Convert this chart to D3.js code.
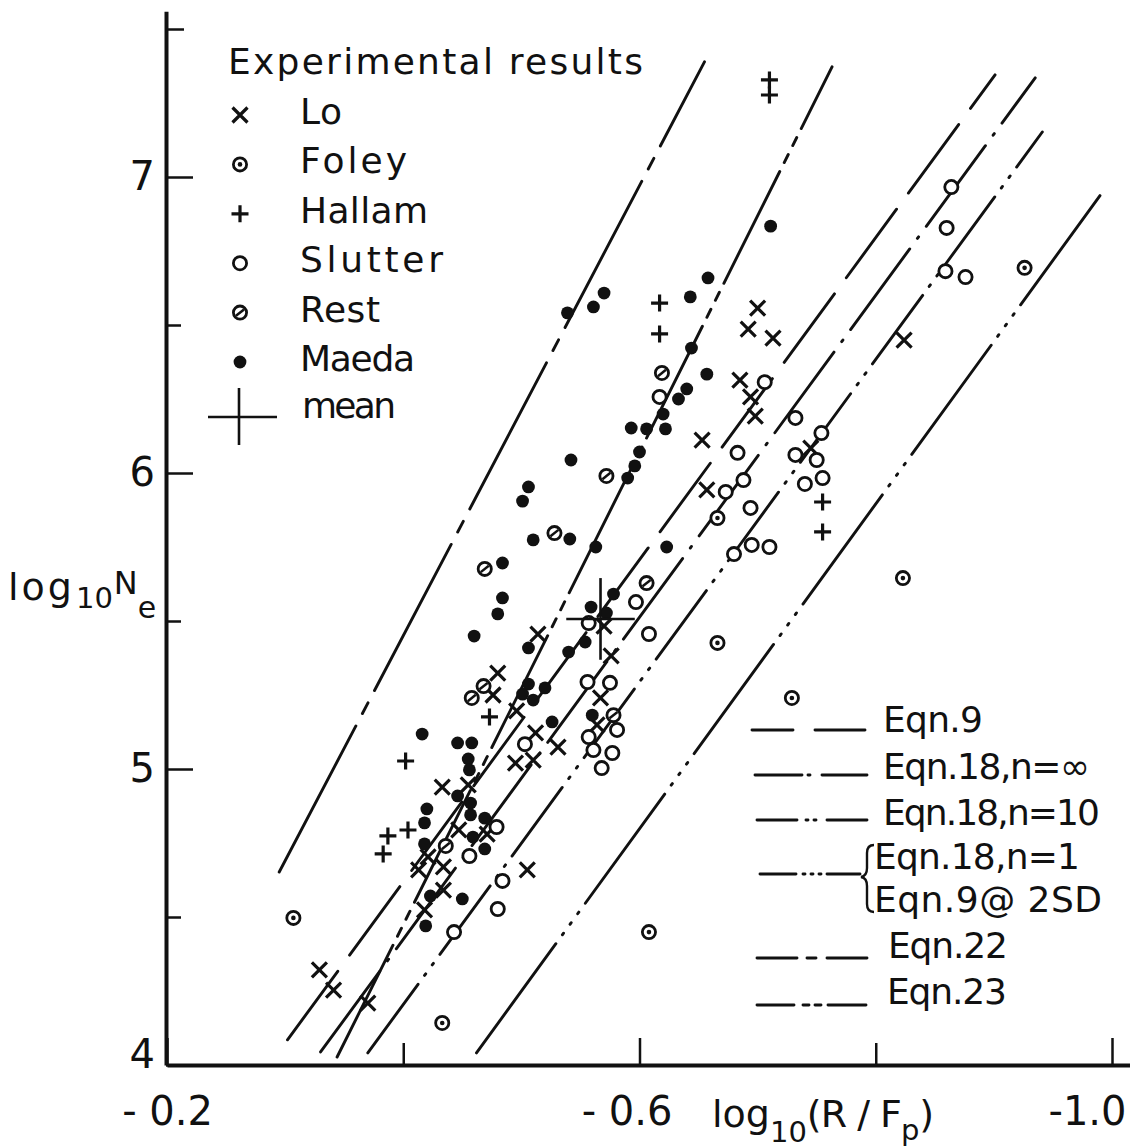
<!DOCTYPE html>
<html>
<head>
<meta charset="utf-8">
<script src="https://cdn.jsdelivr.net/npm/d3@7"></script>
<style>
    html, body { margin: 0; padding: 0; background: #fff; }
    svg text { font-family: "DejaVu Sans", sans-serif; fill: #111; }
</style>
</head>
<body>
<svg id="chart" width="1130" height="1148"></svg>
<script>
// Points are [log10(R/Fp), log10 Ne].
var lo = [[-0.329, 4.321], [-0.341, 4.253], [-0.370, 4.209], [-0.433, 4.939], [-0.455, 4.946],
    [-0.447, 4.794], [-0.471, 4.780], [-0.421, 4.703], [-0.413, 4.659], [-0.434, 4.669],
    [-0.434, 4.591], [-0.418, 4.524], [-0.505, 4.659], [-0.512, 5.122], [-0.495, 5.020],
    [-0.510, 5.030], [-0.531, 5.074], [-0.476, 5.250], [-0.480, 5.324], [-0.496, 5.196],
    [-0.514, 5.456], [-0.570, 5.483], [-0.576, 5.382], [-0.567, 5.240], [-0.564, 5.149],
    [-0.653, 6.111], [-0.657, 5.943], [-0.685, 6.314], [-0.694, 6.257], [-0.698, 6.192],
    [-0.700, 6.557], [-0.692, 6.486], [-0.713, 6.456], [-0.745, 6.084], [-0.824, 6.449]];

var foley = [[-0.307, 4.497], [-0.433, 4.142], [-0.608, 4.449], [-0.666, 5.426], [-0.729, 5.240],
    [-0.823, 5.645], [-0.666, 5.848], [-0.926, 6.693]];

var hallam = [[-0.402, 5.027], [-0.387, 4.774], [-0.404, 4.794], [-0.383, 4.713], [-0.473, 5.176],
    [-0.617, 6.574], [-0.617, 6.470], [-0.710, 7.328], [-0.710, 7.277], [-0.755, 5.902],
    [-0.755, 5.801]];

var slutter = [[-0.443, 4.449], [-0.480, 4.527], [-0.484, 4.622], [-0.456, 4.706], [-0.479, 4.804],
    [-0.503, 5.084], [-0.556, 5.294], [-0.575, 5.291], [-0.581, 5.132], [-0.557, 5.108],
    [-0.561, 5.064], [-0.577, 5.054], [-0.568, 5.003], [-0.557, 5.493], [-0.597, 5.564],
    [-0.608, 5.456], [-0.617, 6.257], [-0.706, 6.307], [-0.732, 6.186], [-0.754, 6.135],
    [-0.683, 6.068], [-0.732, 6.061], [-0.750, 6.044], [-0.755, 5.983], [-0.740, 5.963],
    [-0.688, 5.976], [-0.673, 5.936], [-0.694, 5.882], [-0.680, 5.726], [-0.695, 5.757],
    [-0.710, 5.750], [-0.864, 6.966], [-0.860, 6.828], [-0.859, 6.682], [-0.876, 6.662]];

var rest = [[-0.436, 4.740], [-0.458, 5.240], [-0.468, 5.280], [-0.469, 5.676], [-0.528, 5.797],
    [-0.572, 5.990], [-0.606, 5.628], [-0.578, 5.182], [-0.619, 6.338]];

var maeda = [[-0.416, 5.118], [-0.446, 5.088], [-0.458, 5.088], [-0.455, 5.034], [-0.456, 4.997],
    [-0.446, 4.909], [-0.457, 4.885], [-0.420, 4.865], [-0.418, 4.818], [-0.457, 4.845],
    [-0.469, 4.834], [-0.459, 4.770], [-0.418, 4.747], [-0.469, 4.730], [-0.423, 4.571],
    [-0.450, 4.561], [-0.419, 4.470], [-0.526, 5.159], [-0.506, 5.287], [-0.501, 5.253],
    [-0.510, 5.233], [-0.520, 5.274], [-0.560, 5.182], [-0.542, 6.044], [-0.506, 5.953],
    [-0.501, 5.905], [-0.510, 5.774], [-0.541, 5.777], [-0.484, 5.696], [-0.484, 5.578],
    [-0.480, 5.524], [-0.460, 5.449], [-0.506, 5.409], [-0.540, 5.395], [-0.563, 5.750],
    [-0.578, 5.591], [-0.559, 5.547], [-0.572, 5.527], [-0.554, 5.429], [-0.623, 5.750],
    [-0.590, 5.983], [-0.596, 6.024], [-0.600, 6.071], [-0.593, 6.152], [-0.606, 6.149],
    [-0.622, 6.149], [-0.620, 6.199], [-0.633, 6.250], [-0.640, 6.284], [-0.657, 6.334],
    [-0.644, 6.422], [-0.643, 6.595], [-0.658, 6.659], [-0.711, 6.834], [-0.539, 6.541],
    [-0.561, 6.561], [-0.570, 6.608]];

var meanPoint = [-0.567, 5.507];
var meanErr = [0.029, 0.138];

// Theory lines: end points in data units.
var lineNames = ["Eqn.9", "Eqn.18,n=∞", "Eqn.18,n=10", "Eqn.18,n=1", "Eqn.22", "Eqn.23"];
var lineFrom = [[-0.302, 4.085], [-0.330, 4.044], [-0.370, 4.041], [-0.462, 4.041], [-0.295, 4.652], [-0.344, 4.027]];
var lineTo = [[-0.901, 7.345], [-0.935, 7.335], [-0.941, 7.152], [-0.992, 6.949], [-0.655, 7.389], [-0.763, 7.372]];

var xMajor = [-0.2, -0.6, -1.0];
var xMinor = [-0.4, -0.8];
var xLabels = ["- 0.2", "- 0.6", "-1.0"];
var yMajor = [4, 5, 6, 7];
var yMinor = [4.5, 5.5, 6.5];
var yTop = [7.5];

var ink = "#111";
var svg = d3.select("#chart");

var x = d3.scaleLinear().domain([-0.2, -1.016]).range([167, 167 + 0.816 * 1181.25]);
var y = d3.scaleLinear().domain([4, 7.56]).range([1065, 1065 - 3.56 * 296]);

// dash patterns for the curves (along the line)
var dashes = ["85 20", "100 13 2 13", "85 11 2 11 2 11", "135 11 2 11 2 11 2 11", "165 14 12 14", "125 10 9 10 9 10"];

svg.append("g").selectAll("line")
    .data(lineNames)
    .enter().append("line")
    .attr("x1", function (d, i) { return x(lineFrom[i][0]); })
    .attr("y1", function (d, i) { return y(lineFrom[i][1]); })
    .attr("x2", function (d, i) { return x(lineTo[i][0]); })
    .attr("y2", function (d, i) { return y(lineTo[i][1]); })
    .attr("stroke", ink)
    .attr("stroke-width", 2.9)
    .attr("stroke-linecap", "round")
    .attr("stroke-dasharray", function (d, i) { return dashes[i]; });

// axes
function styleAxis(g) {
    g.attr("font-size", null).attr("font-family", null);
    g.select(".domain").attr("stroke", ink).attr("stroke-width", 4);
    g.selectAll(".tick line").attr("stroke", ink).attr("stroke-width", 2.5);
}

var gx = svg.append("g").attr("transform", "translate(0,1065)")
    .call(d3.axisBottom(x).tickValues(xMajor).tickSizeInner(-27).tickSizeOuter(0)
        .tickFormat(function (d) { return xLabels[xMajor.indexOf(d)]; }));
styleAxis(gx);
gx.selectAll(".tick text")
    .attr("font-size", 40)
    .attr("y", 60).attr("dy", 0)
    .attr("dx", function (d) { return d === -0.6 ? -13 : (d === -1.0 ? -25 : 0); });

var gx2 = svg.append("g").attr("transform", "translate(0,1065)")
    .call(d3.axisBottom(x).tickValues(xMinor).tickSizeInner(-22).tickSizeOuter(0).tickFormat(""));
styleAxis(gx2);
gx2.select(".domain").remove();

var gy = svg.append("g").attr("transform", "translate(166,0)")
    .call(d3.axisLeft(y).tickValues(yMajor).tickSizeInner(-27).tickSizeOuter(0).tickPadding(11)
        .tickFormat(d3.format("d")));
styleAxis(gy);
gy.selectAll(".tick text")
    .attr("font-size", 40)
    .attr("y", function (d) { return d === 4 ? -10 : 0; });

var gy2 = svg.append("g").attr("transform", "translate(166,0)")
    .call(d3.axisLeft(y).tickValues(yMinor).tickSizeInner(-15).tickSizeOuter(0).tickFormat(""));
styleAxis(gy2);
gy2.select(".domain").remove();

var gy3 = svg.append("g").attr("transform", "translate(166,0)")
    .call(d3.axisLeft(y).tickValues(yTop).tickSizeInner(-18).tickSizeOuter(0).tickFormat(""));
styleAxis(gy3);
gy3.select(".domain").remove();

// axis titles
var xt = svg.append("text").attr("x", 712).attr("y", 1127).attr("font-size", 38);
xt.append("tspan").text("log");
xt.append("tspan").attr("font-size", 29).attr("dy", 15).text("10");
xt.append("tspan").attr("dy", -15).attr("letter-spacing", -1).text("(R / F");
xt.append("tspan").attr("font-size", 29).attr("dy", 13).text("p");
xt.append("tspan").attr("dy", -13).text(")");

var yt = svg.append("text").attr("x", 8).attr("y", 600).attr("font-size", 38);
yt.append("tspan").attr("letter-spacing", 3).text("log");
yt.append("tspan").attr("font-size", 29).attr("dy", 8).attr("dx", 1).text("10");
yt.append("tspan").attr("font-size", 32).attr("dy", -14).attr("dx", 1).text("N");
yt.append("tspan").attr("font-size", 30).attr("dy", 24).text("e");

// marker shapes
function addShape(sel, kind) {
    if (kind === "x") {
        sel.append("path").attr("d", "M-7.5,-7.5L7.5,7.5M-7.5,7.5L7.5,-7.5")
            .attr("stroke", ink).attr("stroke-width", 3.2).attr("fill", "none");
    } else if (kind === "plus") {
        sel.append("path").attr("d", "M-8.5,0H8.5M0,-8.5V8.5")
            .attr("stroke", ink).attr("stroke-width", 3.2).attr("fill", "none");
    } else if (kind === "dot") {
        sel.append("circle").attr("r", 6.4).attr("fill", ink);
    } else {
        sel.append("circle").attr("r", 6.6).attr("fill", "#fff")
            .attr("stroke", ink).attr("stroke-width", 2.8);
        if (kind === "centre") {
            sel.append("circle").attr("r", 2.3).attr("fill", ink);
        } else if (kind === "slash") {
            sel.append("path").attr("d", "M-4,3.2L4,-3.2")
                .attr("stroke", ink).attr("stroke-width", 2.5);
        }
    }
}

var seriesData = [lo, foley, hallam, slutter, rest, maeda];
var seriesNames = ["Lo", "Foley", "Hallam", "Slutter", "Rest", "Maeda"];
var seriesKinds = ["x", "centre", "plus", "open", "slash", "dot"];

var marks = svg.append("g");
seriesData.forEach(function (data, i) {
    var g = marks.selectAll(null)
        .data(data)
        .enter().append("g")
        .attr("transform", function (d) { return "translate(" + x(d[0]) + "," + y(d[1]) + ")"; });
    addShape(g, seriesKinds[i]);
});

// mean with error bars
var mg = svg.append("g").attr("stroke", ink).attr("stroke-width", 2.6);
mg.append("line")
    .attr("x1", x(meanPoint[0] + meanErr[0])).attr("x2", x(meanPoint[0] - meanErr[0]))
    .attr("y1", y(meanPoint[1])).attr("y2", y(meanPoint[1]));
mg.append("line")
    .attr("x1", x(meanPoint[0])).attr("x2", x(meanPoint[0]))
    .attr("y1", y(meanPoint[1] - meanErr[1])).attr("y2", y(meanPoint[1] + meanErr[1]));

// legend: experimental results
svg.append("text").attr("x", 228).attr("y", 74).attr("font-size", 36)
    .attr("textLength", 415).attr("lengthAdjust", "spacing").text("Experimental results");

var legWidths = [42, 107, 128, 143, 80, 115];
seriesNames.forEach(function (name, i) {
    var cy = 115 + 49.4 * i;
    var g = svg.append("g").attr("transform", "translate(240," + cy + ")");
    addShape(g, seriesKinds[i]);
    svg.append("text").attr("x", 300).attr("y", cy + 9).attr("font-size", 36)
        .attr("textLength", legWidths[i]).attr("lengthAdjust", "spacing").text(name);
});
var lm = svg.append("g").attr("stroke", ink).attr("stroke-width", 2.6);
lm.append("line").attr("x1", 208).attr("x2", 277).attr("y1", 417).attr("y2", 417);
lm.append("line").attr("x1", 239).attr("x2", 239).attr("y1", 388).attr("y2", 445);
svg.append("text").attr("x", 302).attr("y", 418).attr("font-size", 36)
    .attr("textLength", 94).attr("lengthAdjust", "spacing").text("mean");

// legend: theory lines
var keyRows = [
    {x1: 752, x2: 866, y: 730, dash: "41 22 50"},
    {x1: 755, x2: 867, y: 775, dash: "47 6 2 12 45"},
    {x1: 757, x2: 867, y: 820, dash: "40 9 2 6 2 11 40"},
    {x1: 760, x2: 860, y: 874, dash: "36 7 2 6 2 6 2 6 36"},
    {x1: 757, x2: 867, y: 958, dash: "40 10 9 11 40"},
    {x1: 757, x2: 866, y: 1005, dash: "37 9 6 6 6 7 38"}
];
svg.append("g").selectAll("line")
    .data(keyRows)
    .enter().append("line")
    .attr("x1", function (d) { return d.x1; })
    .attr("x2", function (d) { return d.x2; })
    .attr("y1", function (d) { return d.y; })
    .attr("y2", function (d) { return d.y; })
    .attr("stroke", ink).attr("stroke-width", 2.9)
    .attr("stroke-linecap", "round")
    .attr("stroke-dasharray", function (d) { return d.dash; });

var keyText = [
    {t: "Eqn.9", x: 883, y: 732, w: 100},
    {t: "Eqn.18,n=∞", x: 883, y: 779, w: 207},
    {t: "Eqn.18,n=10", x: 883, y: 825, w: 217},
    {t: "Eqn.18,n=1", x: 874, y: 869, w: 206},
    {t: "Eqn.9@ 2SD", x: 874, y: 912, w: 228},
    {t: "Eqn.22", x: 888, y: 958, w: 120},
    {t: "Eqn.23", x: 887, y: 1004, w: 120}
];
svg.append("g").selectAll("text")
    .data(keyText)
    .enter().append("text")
    .attr("x", function (d) { return d.x; })
    .attr("y", function (d) { return d.y; })
    .attr("font-size", 36)
    .attr("textLength", function (d) { return d.w; })
    .attr("lengthAdjust", "spacing")
    .text(function (d) { return d.t; });

// brace joining the two labels that share one line style
svg.append("path")
    .attr("d", "M874,845 Q867,845 867,853 L867,868 Q867,876 861,877 Q867,878 867,886 L867,904 Q867,912 874,912")
    .attr("fill", "none").attr("stroke", ink).attr("stroke-width", 2.4);
</script>
</body>
</html>
